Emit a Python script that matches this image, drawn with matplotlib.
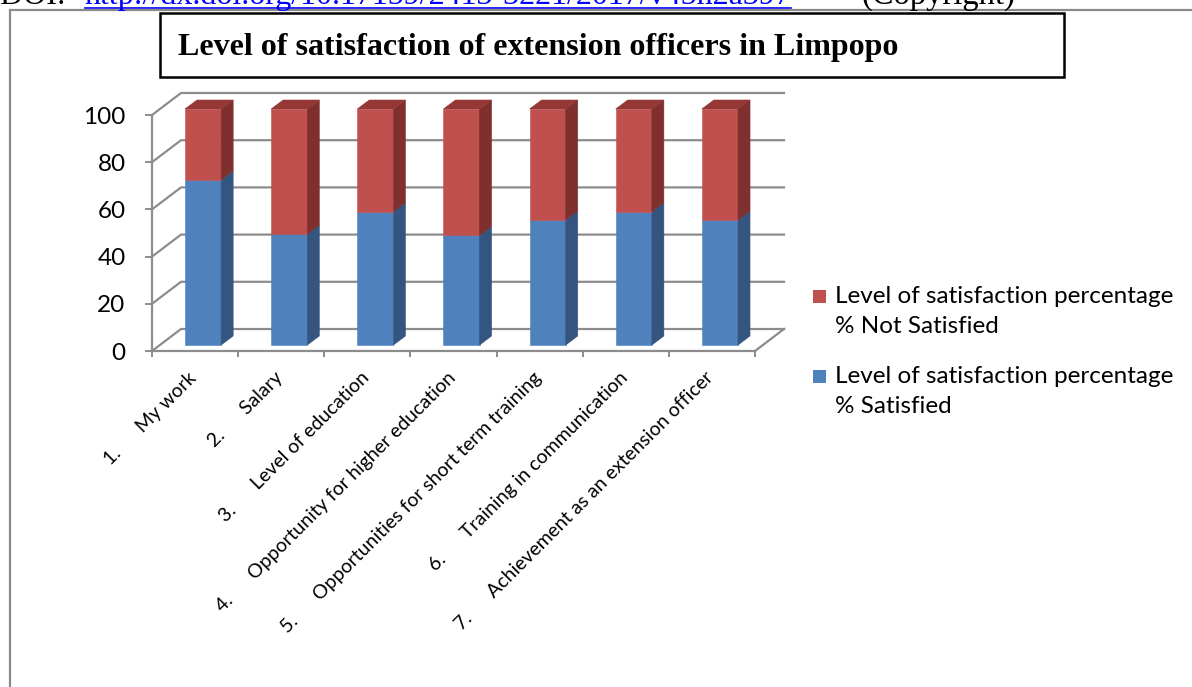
import matplotlib
matplotlib.use('Agg')
import matplotlib.pyplot as plt
from matplotlib.patches import Polygon, Rectangle
from matplotlib.lines import Line2D
import matplotlib.transforms as mtransforms

# ---------------- data ----------------
categories = ["1.", "2.", "3.", "4.", "5.", "6.", "7."]
category_names = ["My work", "Salary", "Level of education",
                  "Opportunity for higher education",
                  "Opportunities for short term training",
                  "Training in communication",
                  "Achievement as an extension officer"]
satisfied = [70, 47, 56.5, 46.5, 53, 56.5, 53]
not_satisfied = [30, 53, 43.5, 53.5, 47, 43.5, 47]
yticks = [0, 20, 40, 60, 80, 100]
series_names = ["Level of satisfaction percentage\n% Not Satisfied",
                "Level of satisfaction percentage\n% Satisfied"]
title = "Level of satisfaction of extension officers in Limpopo"
doi_prefix = "DOI: "
doi_link = "http://dx.doi.org/10.17159/2413-3221/2017/v45n2a397"
copyright_txt = "(Copyright)"

# ---------------- figure ----------------
W, H = 1192, 687
fig = plt.figure(figsize=(W / 100, H / 100), dpi=100)
fig.patch.set_facecolor('white')

def fx(px):
    return px / W

def fy(py):
    return 1 - py / H

SANS = ['Lato', 'DejaVu Sans']
SERIF = ['Liberation Serif', 'DejaVu Serif']
GRID = '#8c8c8c'

# page header (cut off at the top, as in the source page)
fig.text(fx(0), fy(4), doi_prefix, family=SERIF, fontsize=23, va='baseline', ha='left')
fig.text(fx(85), fy(4), doi_link, family=SERIF, fontsize=23, va='baseline', ha='left', color='#0000ff')
fig.add_artist(Line2D([fx(85), fx(791)], [fy(8), fy(8)], color='#0000ff', lw=1.2))
fig.text(fx(862), fy(4), copyright_txt, family=SERIF, fontsize=23.5, va='baseline', ha='left')

# chart border
fig.add_artist(Line2D([fx(10), fx(10), fx(1192)], [fy(687), fy(10), fy(10)],
                      color='#8a8a8a', lw=1.6, solid_joinstyle='miter'))

# title box
fig.add_artist(Rectangle((fx(160), fy(77)), fx(1064) - fx(160), fy(13) - fy(77),
                         fill=False, edgecolor='black', lw=1.8))
fig.text(fx(178), fy(48), title, family=SERIF, fontweight='bold', fontsize=23,
         va='center', ha='left')

# ---------------- axes (front plane) ----------------
ax_l, ax_r, ax_b, ax_t = 152, 755, 351, 115
ax = fig.add_axes([fx(ax_l), fy(ax_b), (ax_r - ax_l) / W, (ax_b - ax_t) / H])
n = len(categories)
ax.set_xlim(0, n)
ax.set_ylim(0, 100)
ax.patch.set_visible(False)

sx = n / (ax_r - ax_l)
sy = 100 / (ax_b - ax_t)

def d(px, py):
    return px * sx, py * sy

wdx, wdy = d(29, 22)      # depth of the walls
fdx, fdy = d(8, 6)        # bar front offset
bdx, bdy = d(12, 9)       # bar depth

# gridlines on back wall + side wall
for yv in yticks:
    ax.add_line(Line2D([0, wdx, n + wdx], [yv, yv + wdy, yv + wdy], color=GRID,
                       lw=1.6, clip_on=False, zorder=1))
# floor right edge
ax.add_line(Line2D([n, n + wdx], [0, wdy], color=GRID, lw=1.6, clip_on=False, zorder=1))

for s in ['top', 'right']:
    ax.spines[s].set_visible(False)
for s in ['left', 'bottom']:
    ax.spines[s].set_color(GRID)
    ax.spines[s].set_linewidth(1.6)

# bars
RED_F, RED_S, RED_T = '#c0504d', '#7f302e', '#953735'
BLUE_F, BLUE_S = '#4f81bd', '#34557f'
bw = 0.42
for i in range(n):
    xl = i + 0.5 - bw / 2 + fdx
    xr = i + 0.5 + bw / 2 + fdx
    y0 = fdy
    s = satisfied[i]
    t = satisfied[i] + not_satisfied[i]
    polys = [
        ([(xl, y0), (xr, y0), (xr, y0 + s), (xl, y0 + s)], BLUE_F),
        ([(xr, y0), (xr + bdx, y0 + bdy), (xr + bdx, y0 + s + bdy), (xr, y0 + s)], BLUE_S),
        ([(xl, y0 + s), (xr, y0 + s), (xr, y0 + t), (xl, y0 + t)], RED_F),
        ([(xr, y0 + s), (xr + bdx, y0 + s + bdy), (xr + bdx, y0 + t + bdy), (xr, y0 + t)], RED_S),
        ([(xl, y0 + t), (xr, y0 + t), (xr + bdx, y0 + t + bdy), (xl + bdx, y0 + t + bdy)], RED_T),
    ]
    for pts, c in polys:
        ax.add_patch(Polygon(pts, closed=True, facecolor=c, edgecolor=c, lw=0.4,
                             clip_on=False, zorder=3))

# y ticks
ax.set_yticks(yticks)
ax.set_yticklabels([str(v) for v in yticks], family=SANS, fontsize=17.5)
ax.tick_params(axis='y', direction='out', length=5, width=1.4, color=GRID, pad=14)

# x ticks: marks at boundaries, labels at centres
ax.set_xticks(range(n + 1))
ax.set_xticklabels([])
ax.tick_params(axis='x', which='major', direction='out', length=4, width=1.4, color=GRID)
ax.set_xticks([i + 0.5 for i in range(n)], minor=True)
labels = [f"{c}      {nm}" for c, nm in zip(categories, category_names)]
ax.set_xticklabels(labels, minor=True, rotation=45, ha='right', va='top',
                   family=SANS, fontsize=14)
ax.tick_params(axis='x', which='minor', length=0, pad=13)
off = mtransforms.ScaledTranslation(5 / 100, 0, fig.dpi_scale_trans)
for lab in ax.get_xticklabels(minor=True):
    lab.set_transform(lab.get_transform() + off)

# legend (manual, to mimic Excel layout)
leg_colors = [RED_F, BLUE_F]
leg_centers = [311.5, 391.5]
fs_leg = 17.5
for c, name, yc in zip(leg_colors, series_names, leg_centers):
    fig.add_artist(Rectangle((fx(813), fy(yc - 15.5 + 7)), 13 / W, 13 / H,
                             facecolor=c, edgecolor='none'))
    fig.text(fx(835), fy(yc), name, family=SANS, fontsize=fs_leg, va='center',
             ha='left', linespacing=1.58)

fig.savefig('out.png', dpi=100)
